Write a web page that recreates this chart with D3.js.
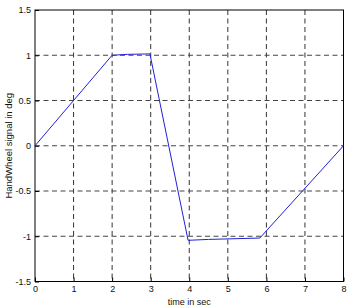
<!DOCTYPE html>
<html>
<head>
<meta charset="utf-8">
<script src="https://cdn.jsdelivr.net/npm/d3@7"></script>
<style>
  body { margin: 0; background: #fff; }
  text { font-family: "Liberation Sans", Arial, sans-serif; font-size: 9px; fill: #111; }
</style>
</head>
<body>
<svg id="chart"></svg>
<script>
// values
let timeSec = [0, 2, 2.4, 2.98, 3.97, 4.5, 5.83, 8];
let signalDeg = [0, 1.0, 1.01, 1.015, -1.045, -1.035, -1.02, 0];
let xTicks = [0, 1, 2, 3, 4, 5, 6, 7, 8];
let yTicks = [-1.5, -1, -0.5, 0, 0.5, 1, 1.5];

let svgWidth = 354, svgHeight = 308;
let plotLeft = 35, plotRight = 343.5, plotTop = 10, plotBottom = 281.5;

let svg = d3.select('#chart')
    .attr("width", svgWidth)
    .attr("height", svgHeight);

let x = d3.scaleLinear().domain([0, 8]).range([plotLeft, plotRight]);
let y = d3.scaleLinear().domain([-1.5, 1.5]).range([plotBottom, plotTop]);

// grid
svg.append("g")
    .selectAll("line")
    .data(xTicks.slice(1, -1))
    .enter()
    .append("line")
    .attr("x1", d => x(d)).attr("x2", d => x(d))
    .attr("y1", plotTop).attr("y2", plotBottom)
    .attr("stroke", "#333")
    .attr("stroke-dasharray", "5,3.5");

svg.append("g")
    .selectAll("line")
    .data(yTicks.slice(1, -1))
    .enter()
    .append("line")
    .attr("x1", plotLeft).attr("x2", plotRight)
    .attr("y1", d => y(d)).attr("y2", d => y(d))
    .attr("stroke", "#444")
    .attr("stroke-dasharray", "5,3.5");

// axes
let xAxis = d3.axisBottom(x).tickValues(xTicks).tickSize(-4).tickPadding(4).tickFormat(d3.format("d"));
let yAxis = d3.axisLeft(y).tickValues(yTicks).tickSize(-4).tickPadding(4).tickFormat(d => d);

let gx = svg.append("g").attr("transform", "translate(0," + plotBottom + ")").call(xAxis);
let gy = svg.append("g").attr("transform", "translate(" + plotLeft + ",0)").call(yAxis);
[gx, gy].forEach(g => {
    g.select(".domain").remove();
    g.selectAll("line").attr("stroke", "#000");
    g.selectAll("text").style("font-family", '"Liberation Sans", Arial, sans-serif').style("font-size", "9px");
});

// frame
svg.append("rect")
    .attr("x", plotLeft).attr("y", plotTop)
    .attr("width", plotRight - plotLeft).attr("height", plotBottom - plotTop)
    .attr("fill", "none")
    .attr("stroke", "#000")
    .attr("stroke-width", 1);

// signal
let line = d3.line()
    .x((d, i) => x(timeSec[i]))
    .y(d => y(d));

svg.append("path")
    .datum(signalDeg)
    .attr("d", line)
    .attr("fill", "none")
    .attr("stroke", "#2020d8")
    .attr("stroke-width", 1);

// labels
svg.append("text")
    .attr("x", (plotLeft + plotRight) / 2)
    .attr("y", 305)
    .attr("text-anchor", "middle")
    .text("time in sec");

svg.append("text")
    .attr("transform", "translate(12," + ((plotTop + plotBottom) / 2) + ") rotate(-90)")
    .attr("text-anchor", "middle")
    .style("font-size", "9.5px")
    .text("HandWheel signal in deg");
</script>
</body>
</html>
